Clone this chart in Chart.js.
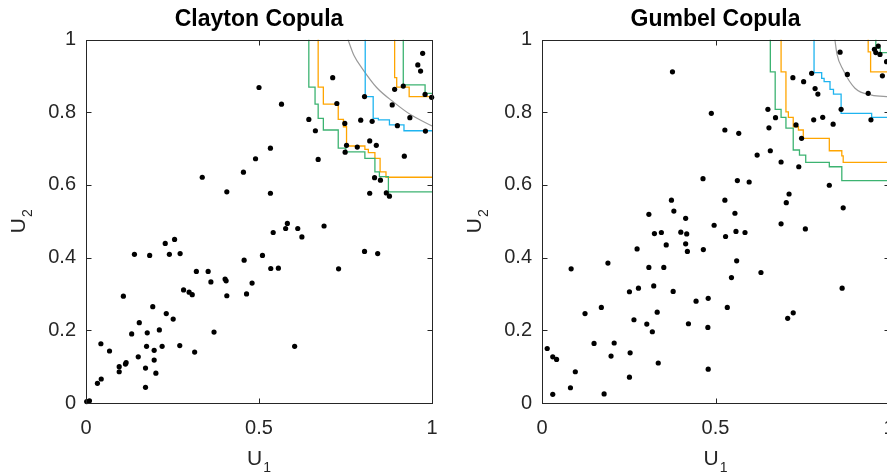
<!DOCTYPE html>
<html><head><meta charset="utf-8">
<script src="https://cdn.jsdelivr.net/npm/chart.js@4/dist/chart.umd.min.js"></script>
<style>
html,body{margin:0;padding:0;background:#fff;overflow:hidden;width:887px;height:473px;position:relative;}
.wrap{position:absolute;top:0;height:473px;}
#w1{left:0;width:518px;} #w2{left:456px;width:519px;}
canvas{display:block;}
</style></head><body>
<div class="wrap" id="w1"><canvas id="c1" width="518" height="473"></canvas></div>
<div class="wrap" id="w2"><canvas id="c2" width="519" height="473"></canvas></div>
<script>
// ---------- DATA ----------
const panelTitles = ['Clayton Copula', 'Gumbel Copula'];
const xTickValues = [0, 0.5, 1];
const xTickLabels = ['0', '0.5', '1'];
const yTickValues = [0, 0.2, 0.4, 0.6, 0.8, 1];
const yTickLabels = ['0', '0.2', '0.4', '0.6', '0.8', '1'];
const xAxisLabel = ['U', '1'];
const yAxisLabel = ['U', '2'];

// Clayton sample
const claytonU1 = [0.500,0.490,0.455,0.407,0.336,
 0.973,0.959,0.967,0.713,0.917,0.892,0.980,0.999,0.805,0.565,0.725,0.885,0.644,0.794,0.827,0.936,0.748,0.900,0.981,0.663,0.820,0.839,0.753,0.784,0.533,0.749,0.671,0.920,0.834,0.851,0.533,0.820,0.868,0.877,
 0.002,0.010,0.033,0.044,0.043,0.068,0.096,0.096,0.114,0.116,0.108,0.140,0.184,0.132,0.154,0.151,0.172,0.172,0.175,0.177,0.193,0.197,0.197,0.202,0.212,0.220,0.232,0.252,0.229,0.256,0.241,0.272,0.271,0.314,0.319,0.353,0.282,0.298,0.307,0.361,0.370,0.402,0.405,0.407,0.457,0.464,0.480,
 0.510,0.534,0.556,0.541,0.577,0.582,0.612,0.624,0.688,0.603,0.730,0.805,0.843];
const claytonU2 = [0.868,0.672,0.635,0.581,0.621,
 0.962,0.930,0.913,0.895,0.872,0.863,0.849,0.841,0.843,0.822,0.824,0.820,0.780,0.778,0.775,0.785,0.769,0.763,0.748,0.749,0.721,0.709,0.709,0.704,0.701,0.690,0.670,0.679,0.620,0.613,0.577,0.577,0.578,0.569,
 0.004,0.006,0.054,0.066,0.163,0.143,0.100,0.086,0.107,0.111,0.294,0.409,0.406,0.190,0.221,0.127,0.096,0.043,0.156,0.193,0.265,0.145,0.118,0.082,0.201,0.156,0.246,0.231,0.439,0.450,0.409,0.411,0.158,0.140,0.362,0.362,0.311,0.305,0.298,0.333,0.195,0.341,0.336,0.295,0.393,0.300,0.330,
 0.406,0.370,0.371,0.469,0.480,0.494,0.480,0.457,0.487,0.156,0.369,0.417,0.411];

// Gumbel sample
const gumbelU1 = [0.376,0.488,0.464,0.373,0.380,0.308,0.414,
 0.859,0.969,0.958,0.962,0.974,0.993,0.981,0.880,0.940,0.777,0.723,0.754,0.787,0.795,0.651,0.673,0.654,0.862,0.783,0.809,0.839,0.948,0.732,0.748,0.527,0.567,0.620,0.658,0.689,0.740,0.563,0.597,0.828,0.712,0.704,0.527,0.868,0.556,
 0.496,0.324,0.344,0.400,0.417,0.358,0.414,0.419,0.465,0.274,0.190,0.084,0.308,0.351,0.322,0.278,0.252,0.378,0.444,0.479,0.171,0.124,0.332,0.265,0.302,0.422,0.318,0.478,0.015,0.031,0.042,0.150,0.208,0.199,0.254,0.335,0.096,0.252,0.479,0.082,0.031,0.179,
 0.559,0.529,0.585,0.689,0.759,0.561,0.631,0.546,0.865,0.534,0.708,0.724];
const gumbelU2 = [0.911,0.797,0.617,0.558,0.528,0.519,0.508,
 0.965,0.982,0.973,0.964,0.959,0.939,0.900,0.904,0.852,0.907,0.895,0.884,0.865,0.850,0.808,0.785,0.757,0.808,0.779,0.786,0.767,0.779,0.765,0.728,0.751,0.742,0.682,0.694,0.663,0.650,0.612,0.608,0.599,0.575,0.551,0.558,0.537,0.522,
 0.489,0.466,0.469,0.470,0.465,0.435,0.438,0.417,0.422,0.424,0.385,0.369,0.373,0.373,0.322,0.316,0.306,0.307,0.280,0.288,0.263,0.246,0.250,0.229,0.217,0.218,0.196,0.208,0.150,0.127,0.120,0.164,0.165,0.129,0.138,0.110,0.086,0.071,0.093,0.042,0.024,0.025,
 0.472,0.458,0.469,0.493,0.479,0.391,0.359,0.345,0.316,0.263,0.233,0.248];

// Contours (step corners)
const claytonGreenX  = [0.644,0.662,0.671,0.686,0.729,0.751,0.806,0.835,0.848,0.874,1];
const claytonGreenY  = [1,0.869,0.822,0.783,0.751,0.701,0.691,0.673,0.636,0.623,0.581];
const claytonOrangeX = [0.671,0.686,0.729,0.744,0.753,0.806,0.816,0.835,0.850,0.867,1];
const claytonOrangeY = [1,0.869,0.822,0.780,0.760,0.707,0.698,0.689,0.673,0.636,0.621];
const claytonOrange2X = [0.892,0.898,0.934,1];
const claytonOrange2Y = [1,0.895,0.869,0.843];
const claytonGreen2X = [0.917,0.980,1];
const claytonGreen2Y = [1,0.875,0.852];
const claytonBlueX   = [0.807,0.830,0.845,0.877,0.919,1];
const claytonBlueY   = [1,0.843,0.783,0.779,0.765,0.749];
const claytonGrayX   = [0.757,0.775,0.800,0.840,0.890,0.940,1];
const claytonGrayY   = [1,0.955,0.918,0.868,0.827,0.792,0.762];

const gumbelGreenX  = [0.658,0.672,0.689,0.703,0.724,0.742,0.760,0.828,0.864,1];
const gumbelGreenY  = [1,0.911,0.808,0.786,0.756,0.696,0.682,0.662,0.650,0.612];
const gumbelOrangeX = [0.689,0.703,0.710,0.724,0.739,0.753,0.828,0.864,0.868,1];
const gumbelOrangeY = [1,0.911,0.801,0.786,0.760,0.751,0.728,0.694,0.680,0.662];
const gumbelBlueX   = [0.784,0.806,0.813,0.830,0.840,0.862,0.950,1];
const gumbelBlueY   = [1,0.909,0.893,0.884,0.863,0.850,0.797,0.786];
const gumbelGrayX   = [0.844,0.850,0.868,0.902,0.950,1];
const gumbelGrayY   = [1,0.960,0.916,0.866,0.847,0.843];
const gumbelOrange2X = [0.940,0.947,1];
const gumbelOrange2Y = [1,0.966,0.911];
const gumbelGreen2X = [0.962,0.975,1];
const gumbelGreen2Y = [1,0.976,0.964];

// ---------- STYLE ----------
const FONT = '"Liberation Sans", Arial, Helvetica, sans-serif';
const GREEN = '#3cb371', ORANGE = '#ffa500', BLUE = '#1eb4f0', GRAY = '#9a9a9a';
const AXIS = '#262626';

function pts(xs, ys){ return xs.map((v,i)=>({x:v, y:ys[i]})); }
function stepLine(xs, ys, color){
  return {type:'line', data:pts(xs,ys), borderColor:color, borderWidth:1.3, pointRadius:0, stepped:'after', fill:false, order:2};
}
function curveLine(xs, ys, color){
  return {type:'line', data:pts(xs,ys), borderColor:color, borderWidth:1.2, pointRadius:0, cubicInterpolationMode:'monotone', fill:false, order:2};
}

function subLabel(ctx, cx, cy, rot, main, sub){
  ctx.save();
  ctx.translate(cx, cy); ctx.rotate(rot);
  ctx.fillStyle = AXIS; ctx.textAlign = 'left'; ctx.textBaseline = 'alphabetic';
  ctx.font = '21px ' + FONT; const w1 = ctx.measureText(main).width;
  ctx.font = '14px ' + FONT; const w2 = ctx.measureText(sub).width;
  const x0 = -(w1 + w2 + 1) / 2;
  ctx.font = '21px ' + FONT; ctx.fillText(main, x0, 0);
  ctx.font = '14px ' + FONT; ctx.fillText(sub, x0 + w1 + 1, 7);
  ctx.restore();
}

const framePlugin = {
  id: 'frame',
  afterDraw(chart){
    const {ctx, chartArea:a, scales:{x, y}} = chart;
    ctx.save();
    ctx.strokeStyle = AXIS; ctx.lineWidth = 1;
    const L = Math.round(a.left)+0.5, R = Math.round(a.right)+0.5, T = Math.round(a.top)+0.5, B = Math.round(a.bottom)+0.5;
    ctx.strokeRect(L, T, R-L, B-T);
    ctx.beginPath();
    const tl = 5;
    xTickValues.forEach(v => {
      const p = Math.round(x.getPixelForValue(v)) + 0.5;
      ctx.moveTo(p, B); ctx.lineTo(p, B - tl);
      ctx.moveTo(p, T); ctx.lineTo(p, T + tl);
    });
    yTickValues.forEach(v => {
      const p = Math.round(y.getPixelForValue(v)) + 0.5;
      ctx.moveTo(L, p); ctx.lineTo(L + tl, p);
      ctx.moveTo(R, p); ctx.lineTo(R - tl, p);
    });
    ctx.stroke();
    ctx.restore();
    subLabel(ctx, (a.left + a.right)/2, a.bottom + 62, 0, xAxisLabel[0], xAxisLabel[1]);
    subLabel(ctx, a.left - 61, (a.top + a.bottom)/2, -Math.PI/2, yAxisLabel[0], yAxisLabel[1]);
  }
};

function makeChart(id, title, u1, u2, lines){
  const datasets = lines.slice();
  datasets.push({type:'scatter', data:pts(u1,u2), backgroundColor:'#000', borderColor:'#000', borderWidth:0, pointRadius:2.6, clip:false, order:1});
  return new Chart(document.getElementById(id), {
    type:'scatter',
    data:{datasets},
    options:{
      responsive:false, animation:false, events:[],
      layout:{padding:0},
      plugins:{
        legend:{display:false}, tooltip:{enabled:false},
        title:{display:true, text:title, color:'#000', font:{family:FONT, size:23, weight:'bold', lineHeight:1.2}, padding:{top:6, bottom:5.9}}
      },
      scales:{
        x:{type:'linear', min:0, max:1,
           grid:{display:false, drawTicks:false}, border:{display:false},
           afterBuildTicks(s){ s.ticks = xTickValues.map(v=>({value:v})); },
           ticks:{padding:13, color:AXIS, font:{family:FONT, size:20}, maxRotation:0, callback:(v,i)=>xTickLabels[i]},
           afterFit(s){ s.height = 70; }},
        y:{type:'linear', min:0, max:1,
           grid:{display:false, drawTicks:false}, border:{display:false},
           afterBuildTicks(s){ s.ticks = yTickValues.map(v=>({value:v})); },
           ticks:{padding:10, color:AXIS, font:{family:FONT, size:20}, callback:(v,i)=>yTickLabels[i]},
           afterFit(s){ s.width = 86; }},
        yRightSpace:{type:'linear', position:'right', min:0, max:1,
           grid:{display:false, drawTicks:false}, border:{display:false},
           ticks:{display:false},
           afterFit(s){ s.width = 86; }}
      }
    },
    plugins:[framePlugin]
  });
}

makeChart('c1', panelTitles[0], claytonU1, claytonU2, [
  stepLine(claytonGreenX, claytonGreenY, GREEN),
  stepLine(claytonOrangeX, claytonOrangeY, ORANGE),
  stepLine(claytonGreen2X, claytonGreen2Y, GREEN),
  stepLine(claytonOrange2X, claytonOrange2Y, ORANGE),
  stepLine(claytonBlueX, claytonBlueY, BLUE),
  curveLine(claytonGrayX, claytonGrayY, GRAY)
]);
makeChart('c2', panelTitles[1], gumbelU1, gumbelU2, [
  stepLine(gumbelGreenX, gumbelGreenY, GREEN),
  stepLine(gumbelOrangeX, gumbelOrangeY, ORANGE),
  stepLine(gumbelGreen2X, gumbelGreen2Y, GREEN),
  stepLine(gumbelOrange2X, gumbelOrange2Y, ORANGE),
  stepLine(gumbelBlueX, gumbelBlueY, BLUE),
  curveLine(gumbelGrayX, gumbelGrayY, GRAY)
]);
</script></body></html>
